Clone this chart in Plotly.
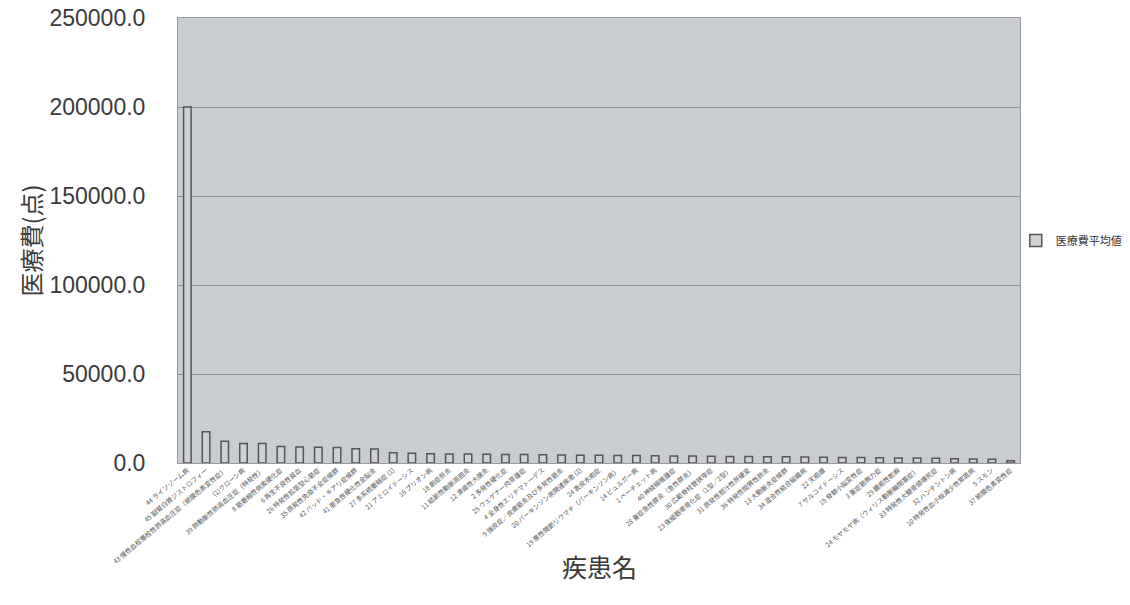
import plotly.graph_objects as go

C_PLOT="#c9ccd0";C_BAR="#cfd2d5";C_EDGE="#555555";C_GRID="#8c8f93";C_TXT="#3a3a3a"
JP="Noto Sans CJK JP"

diseases=["44 ライソゾーム病","45 副腎白質ジストロフィー","43 慢性血栓塞栓性肺高血圧症（網膜色素変性症）","(1)クローン病",
    "39 肺動脈性肺高血圧症（特発性）","8 筋萎縮性側索硬化症","6 再生不良性貧血","26 特発性拡張型心筋症",
    "35 原発性免疫不全症候群","42 バッド・キアリ症候群","41 亜急性硬化性全脳炎","27 多系統萎縮症 (1)",
    "21 アミロイドーシス","16 プリオン病","18 劇症肝炎","11 結節性動脈周囲炎","12 潰瘍性大腸炎",
    "2 多発性硬化症","25 ウェゲナー肉芽腫症","4 全身性エリテマトーデス","9 強皮症／皮膚筋炎及び多発性筋炎",
    "20 パーキンソン病関連疾患 (2)","24 表皮水疱症","19 悪性関節リウマチ（パーキンソン病）","14 ビュルガー病",
    "1 ベーチェット病","40 神経線維腫症","28 重症急性膵炎（急性膵炎）","30 広範脊柱管狭窄症","23 後縦靭帯骨化症（1型／2型）",
    "31 原発性胆汁性肝硬変","36 特発性間質性肺炎","13 大動脈炎症候群","34 混合性結合組織病","22 天疱瘡",
    "7 サルコイドーシス","15 脊髄小脳変性症","3 重症筋無力症","29 膿疱性乾癬","24 モヤモヤ病（ウィリス動脈輪閉塞症）",
    "33 特発性大腿骨頭壊死症","32 ハンチントン病","10 特発性血小板減少性紫斑病","5 スモン","37 網膜色素変性症"]
avg_cost=[200000,17500,12200,11000,10900,9300,9000,8900,8700,8000,
    7900,5800,5500,5200,5100,5000,4900,4800,4750,4650,
    4500,4400,4350,4250,4150,4050,4000,3900,3800,3700,
    3600,3500,3450,3350,3250,3150,3050,2950,2850,2750,
    2600,2450,2300,2100,1300]
y_ticks=[0,50000,100000,150000,200000,250000]

fig=go.Figure(go.Bar(x=diseases,y=avg_cost,name="医療費平均値",
    marker=dict(color=C_BAR,line=dict(color=C_EDGE,width=1.5))))
fig.update_layout(width=1130,height=605,paper_bgcolor="white",plot_bgcolor=C_PLOT,
    margin=dict(l=178,r=110,t=18,b=142,autoexpand=False),bargap=0.6,
    font=dict(family=f"Arial, Liberation Sans, {JP}",color=C_TXT),
    showlegend=True,
    legend=dict(x=0.995,y=0.5,xanchor="left",yanchor="middle",font=dict(size=11,family=JP,color="#333"),
        bgcolor="rgba(0,0,0,0)",itemwidth=30),
    annotations=[dict(text="疾患名",x=0.5,y=-(566-463)/445,xref="paper",yref="paper",showarrow=False,
            yanchor="middle",font=dict(size=25,family=JP,color=C_TXT)),
        dict(text="医療費(点)",x=-(178-30)/842,y=0.5,xref="paper",yref="paper",showarrow=False,textangle=-90,
            xanchor="center",font=dict(size=24,family=JP,color=C_TXT))])
fig.update_xaxes(tickangle=-40,tickfont=dict(size=6.5,family=JP,color="#555"),showline=True,linecolor="#999",
    mirror=True,showgrid=False)
fig.update_yaxes(range=[0,250000],tickvals=y_ticks,tickformat=".1f",tickfont=dict(size=23,color=C_TXT),
    gridcolor=C_GRID,gridwidth=1,showline=True,linecolor="#999",mirror=True,zeroline=False,
    ticklabelstandoff=27,ticklabeloverflow="allow")
# drop the default 8px body margin so the figure sits at the page corner
fig.write_html("out.html",config={"displayModeBar":False},post_script="document.body.style.margin='0';")
